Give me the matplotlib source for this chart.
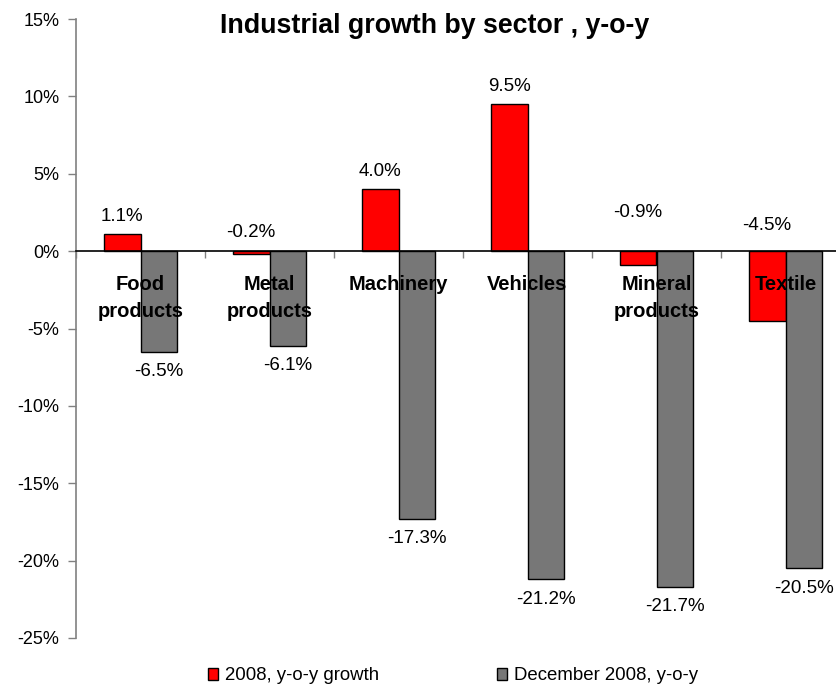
import matplotlib
matplotlib.use("Agg")
import matplotlib.pyplot as plt
import numpy as np

plt.rcParams['font.family'] = ['Liberation Sans', 'DejaVu Sans']

# Data
sectors = ["Food\nproducts", "Metal\nproducts", "Machinery", "Vehicles",
           "Mineral\nproducts", "Textile"]
growth_2008 = [1.1, -0.2, 4.0, 9.5, -0.9, -4.5]
growth_dec_2008 = [-6.5, -6.1, -17.3, -21.2, -21.7, -20.5]
series_names = ["2008, y-o-y growth", "December 2008, y-o-y"]
y_ticks = [-25, -20, -15, -10, -5, 0, 5, 10, 15]

RED = "#ff0000"
GREY = "#777777"
AXIS_GREY = "#808080"

W, H, DPI = 836, 687, 100
fig = plt.figure(figsize=(W / DPI, H / DPI), dpi=DPI)
fig.patch.set_facecolor("white")

# Plot area (right edge runs slightly past the canvas)
left_px, right_px, top_px, bottom_px = 76, 850, 19, 638
ax = fig.add_axes([left_px / W, 1 - bottom_px / H,
                   (right_px - left_px) / W, (bottom_px - top_px) / H])
ax.set_facecolor("white")

x = np.arange(len(sectors))
bw = 0.285
b1 = ax.bar(x - bw / 2, growth_2008, bw, color=RED, edgecolor="black",
            linewidth=1.0, label=series_names[0], zorder=2)
b2 = ax.bar(x + bw / 2, growth_dec_2008, bw, color=GREY, edgecolor="black",
            linewidth=1.0, label=series_names[1], zorder=2)

ax.set_xlim(-0.5, len(sectors) - 0.5)
ax.set_ylim(-25, 15)
ax.set_yticks(y_ticks)
ax.set_yticklabels([f"{t}%" for t in y_ticks], fontsize=13)

# Spines: grey value axis, black category axis sitting on zero
for s in ("top", "right"):
    ax.spines[s].set_visible(False)
ax.spines["left"].set_color(AXIS_GREY)
ax.spines["left"].set_linewidth(1.2)
ax.spines["bottom"].set_position(("data", 0))
ax.spines["bottom"].set_color("black")
ax.spines["bottom"].set_linewidth(1.2)
ax.spines["bottom"].set_zorder(3)

ax.tick_params(axis="y", direction="out", length=6, width=1.0,
               color=AXIS_GREY, pad=6)
ax.set_xticks(np.arange(-0.5, len(sectors) + 0.5, 1.0))
ax.set_xticklabels([])
ax.tick_params(axis="x", direction="out", length=5, width=1.0,
               color=AXIS_GREY)

px2pt = 72 / DPI

# Category names under the zero line
for xi, name in zip(x, sectors):
    ax.annotate(name, xy=(xi, 0), xytext=(0, -24 * px2pt),
                textcoords="offset points", ha="center", va="top",
                fontsize=14.5, fontweight="bold", linespacing=1.5,
                zorder=5)

# Value labels
red_neg_lift = {1: 19, 4: 39, 5: 26}  # px above zero for negative red bars
for i, v in enumerate(growth_2008):
    if v >= 0:
        ax.annotate(f"{v:.1f}%", xy=(x[i] - bw / 2, v),
                    xytext=(0, 17.5 * px2pt), textcoords="offset points",
                    ha="center", va="center", fontsize=13.5)
    else:
        ax.annotate(f"{v:.1f}%", xy=(x[i] - bw / 2, 0),
                    xytext=(0, red_neg_lift.get(i, 20) * px2pt),
                    textcoords="offset points",
                    ha="center", va="center", fontsize=13.5)
for i, v in enumerate(growth_dec_2008):
    ax.annotate(f"{v:.1f}%", xy=(x[i] + bw / 2, v),
                xytext=(0, -20 * px2pt), textcoords="offset points",
                ha="center", va="center", fontsize=13.5)

# Title
fig.text(435 / W, 1 - 26 / H, "Industrial growth by sector , y-o-y",
         ha="center", va="center", fontsize=19.3, fontweight="bold")

# Legend
fig.legend(handles=[b1, b2], labels=series_names, loc="center",
           bbox_to_anchor=(453 / W, 1 - 676 / H), ncol=2, frameon=False,
           fontsize=13.4, handlelength=0.55, handleheight=0.55,
           handletextpad=0.4, columnspacing=6.3)

fig.savefig("out.png", dpi=DPI, facecolor="white")
